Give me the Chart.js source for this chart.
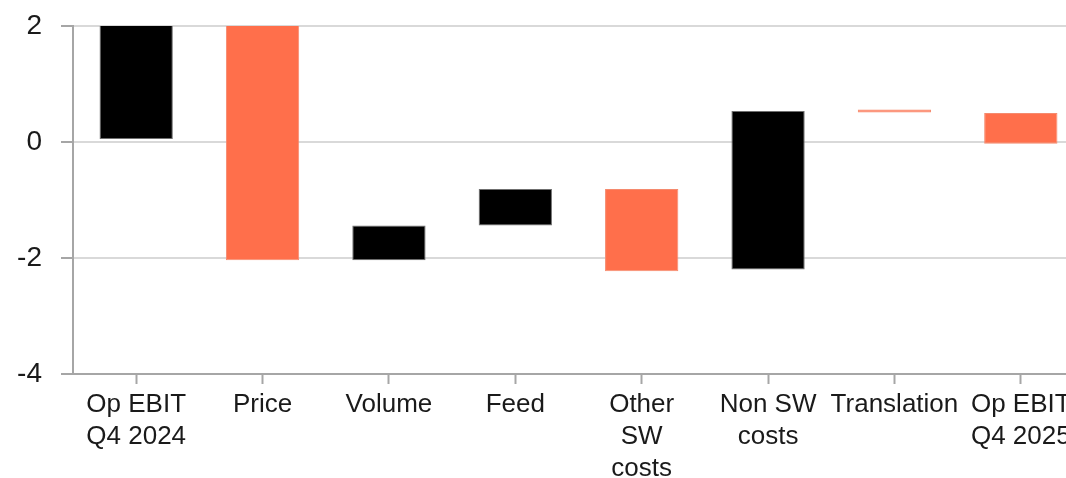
<!DOCTYPE html>
<html>
<head>
<meta charset="utf-8">
<script src="https://cdn.jsdelivr.net/npm/chart.js@4.4.1/dist/chart.umd.min.js"></script>
<style>
  html, body { margin: 0; padding: 0; background: #fff; overflow: hidden; }
  #wrap { width: 1084px; height: 478px; }
</style>
</head>
<body>
<div id="wrap"><canvas id="chart-bridge"></canvas></div>
<script>
// categories and floating bar ranges [low, high]
const categories = [
  ['Op EBIT', 'Q4 2024'],
  'Price',
  'Volume',
  'Feed',
  ['Other', 'SW', 'costs'],
  ['Non SW', 'costs'],
  'Translation',
  ['Op EBIT', 'Q4 2025']
];
const barLow  = [0.05, -2.04, -2.04, -1.44, -2.23, -2.20, 0.51, -0.03];
const barHigh = [2.40,  2.40, -1.44, -0.81, -0.81,  0.535, 0.56, 0.50];
const barKind = ['black', 'orange', 'black', 'black', 'orange', 'black', 'orange', 'orange'];
const yTicks = [2, 0, -2, -4];

const fillFor = { black: '#000000', orange: '#FF6F4B' };
const edgeFor = { black: '#6f6f6f', orange: '#f58a6e' };

const ctx = document.getElementById('chart-bridge').getContext('2d');
new Chart(ctx, {
  type: 'bar',
  data: {
    labels: categories,
    datasets: [{
      data: barLow.map((lo, i) => [lo, barHigh[i]]),
      backgroundColor: barKind.map(k => fillFor[k]),
      borderColor: barKind.map(k => edgeFor[k]),
      borderWidth: 1,
      borderSkipped: false,
      barPercentage: 0.58,
      categoryPercentage: 1
    }]
  },
  options: {
    responsive: true,
    maintainAspectRatio: false,
    animation: false,
    layout: { padding: 0 },
    plugins: { legend: { display: false }, tooltip: { enabled: false } },
    scales: {
      x: {
        grid: {
          offset: false,
          drawOnChartArea: false,
          drawTicks: true,
          tickLength: 10,
          tickColor: '#a6a6a6',
          tickWidth: 2
        },
        border: { display: true, color: '#a6a6a6', width: 2 },
        ticks: {
          autoSkip: false,
          maxRotation: 0,
          minRotation: 0,
          padding: 5,
          color: '#1a1a1a',
          font: { family: 'Liberation Sans', size: 26, lineHeight: 1.23 }
        },
        afterFit: (s) => { s.height = 104; }
      },
      y: {
        min: -4,
        max: 2,
        afterBuildTicks: (s) => { s.ticks = yTicks.map(v => ({ value: v })); },
        grid: {
          color: '#d9d9d9',
          lineWidth: 2,
          tickLength: 12,
          tickColor: '#a6a6a6',
          tickWidth: 2
        },
        border: { display: true, color: '#a6a6a6', width: 2 },
        ticks: {
          padding: 19,
          color: '#1a1a1a',
          // small lineHeight keeps the top padding tight
          font: { family: 'Liberation Sans', size: 28, lineHeight: 0.5 }
        },
        afterFit: (s) => { s.width = 73; }
      }
    }
  }
});
</script>
</body>
</html>
